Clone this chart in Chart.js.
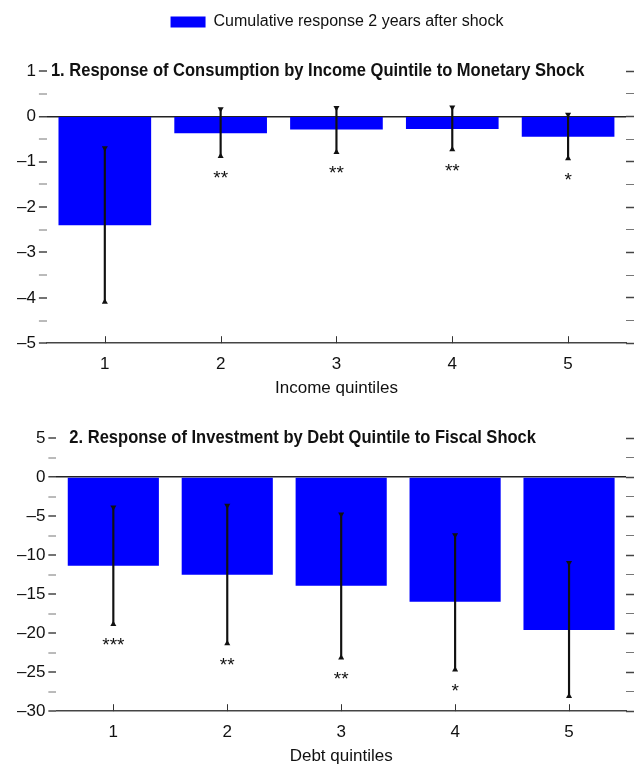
<!DOCTYPE html>
<html>
<head>
<meta charset="utf-8">
<script src="https://cdn.jsdelivr.net/npm/chart.js@4"></script>
<style>
  body { margin: 0; background: #fff; width: 635px; height: 769px; overflow: hidden; }
  #wrap1 { position: absolute; left: 0; top: 0; width: 635px; height: 400px; }
  #wrap2 { position: absolute; left: 0; top: 400px; width: 635px; height: 369px; }
</style>
</head>
<body>
<div id="wrap1"><canvas id="consChart" width="635" height="400"></canvas></div>
<div id="wrap2"><canvas id="invChart" width="635" height="369"></canvas></div>
<script>
var quintiles = ['1', '2', '3', '4', '5'];

// panel 1 : consumption, monetary shock
var consResp = [-2.40, -0.37, -0.29, -0.28, -0.45];
var consLow = [-4.09, -0.88, -0.79, -0.73, -0.93];
var consHigh = [-0.70, 0.16, 0.19, 0.20, 0.04];
var consStars = ['', '**', '**', '**', '*'];

// panel 2 : investment, fiscal shock
var invResp = [-11.36, -12.52, -13.93, -15.99, -19.59];
var invLow = [-18.86, -21.34, -23.14, -24.68, -28.10];
var invHigh = [-3.86, -3.65, -4.76, -7.42, -10.98];
var invStars = ['***', '**', '**', '*', ''];

var legendLabel = 'Cumulative response 2 years after shock';
var FONT = "'Liberation Sans', Arial, sans-serif";

const fmt = v => (v < 0 ? '\u2013' + Math.abs(v) : String(v));

// leave room between the legend and the plot, nudge it right a bit
const legendGap = {
  id: 'legendGap',
  beforeUpdate(chart, args, opts) {
    const lg = chart.legend;
    if (!lg || lg._gapDone || !opts.extra) return;
    const fit = lg.fit;
    lg.fit = function() {
      fit.call(this);
      this.height += opts.extra;
    };
    lg._gapDone = true;
  },
  afterLayout(chart, args, opts) {
    const lg = chart.legend;
    if (!lg || !opts.shift) return;
    lg.left += opts.shift;
    lg.right += opts.shift;
  }
};

// panel title, stars and inner x ticks
const panelDeco = {
  id: 'panelDeco',
  afterDatasetsDraw(chart, args, opts) {
    const ctx = chart.ctx;
    const area = chart.chartArea;
    const xs = chart.scales.x, ys = chart.scales.y;
    ctx.save();
    // stars under the lower end of each band
    ctx.fillStyle = '#111';
    ctx.font = '19px ' + FONT;
    ctx.textAlign = 'center';
    ctx.textBaseline = 'middle';
    opts.stars.forEach((s, i) => {
      if (!s) return;
      ctx.fillText(s, xs.getPixelForValue(i), ys.getPixelForValue(opts.low[i]) + 22);
    });
    // small ticks pointing up from the axis
    ctx.strokeStyle = '#333';
    ctx.lineWidth = 1;
    quintiles.forEach((q, i) => {
      const x = Math.round(xs.getPixelForValue(i)) + 0.5;
      ctx.beginPath();
      ctx.moveTo(x, area.bottom);
      ctx.lineTo(x, area.bottom - 7);
      ctx.stroke();
    });
    // title, condensed like the original narrow face
    ctx.font = 'bold 19px ' + FONT;
    ctx.textAlign = 'left';
    ctx.textBaseline = 'middle';
    ctx.fillStyle = '#111';
    ctx.translate(area.left + opts.titleX, area.top);
    ctx.scale(0.87, 1);
    ctx.fillText(opts.title, 0, 0);
    ctx.restore();
  }
};

function makeChart(canvasId, resp, low, high, cfg) {
  const isMajor = v => Math.abs(v / cfg.major - Math.round(v / cfg.major)) < 1e-6;
  const yCommon = {
    min: cfg.min,
    max: cfg.max,
    border: { display: false }
  };
  return new Chart(document.getElementById(canvasId).getContext('2d'), {
    type: 'bar',
    data: {
      labels: quintiles,
      datasets: [{
        label: legendLabel,
        data: resp,
        backgroundColor: '#0000FF',
        grouped: false,
        categoryPercentage: 0.8,
        barPercentage: 1,
        order: 3
      }, {
        label: 'band',
        data: low.map((l, i) => [l, high[i]]),
        backgroundColor: '#111',
        grouped: false,
        barThickness: 1.5,
        order: 2
      }, {
        type: 'line',
        label: 'upper',
        data: high,
        showLine: false,
        pointStyle: 'triangle',
        pointRotation: 180,
        pointRadius: 3.5,
        pointBackgroundColor: '#111',
        pointBorderWidth: 0,
        order: 1
      }, {
        type: 'line',
        label: 'lower',
        data: low,
        showLine: false,
        pointStyle: 'triangle',
        pointRadius: 3.5,
        pointBackgroundColor: '#111',
        pointBorderWidth: 0,
        order: 1
      }]
    },
    options: {
      responsive: false,
      animation: false,
      layout: { padding: cfg.padding },
      plugins: {
        legend: {
          display: cfg.legend,
          labels: {
            filter: item => item.datasetIndex === 0,
            boxWidth: 35,
            boxHeight: 11,
            padding: 10,
            color: '#111',
            font: { family: FONT, size: 16 }
          }
        },
        legendGap: { extra: cfg.legend ? 31 : 0, shift: cfg.legend ? 13 : 0 },
        tooltip: { enabled: false },
        panelDeco: { title: cfg.title, titleX: cfg.titleX, stars: cfg.stars, low: low }
      },
      scales: {
        x: {
          type: 'category',
          offset: true,
          grid: { display: false },
          border: { display: true, color: '#444', width: 1.5 },
          ticks: { color: '#111', padding: 3, font: { family: FONT, size: 17 } },
          title: {
            display: true,
            text: cfg.xTitle,
            color: '#111',
            padding: { top: 1, bottom: 0 },
            font: { family: FONT, size: 17 }
          }
        },
        y: Object.assign({}, yCommon, {
          position: 'left',
          ticks: {
            stepSize: cfg.step,
            autoSkip: false,
            padding: 3,
            color: '#111',
            font: { family: FONT, size: 17 },
            callback: v => (isMajor(v) ? fmt(v) : '')
          },
          grid: {
            drawOnChartArea: true,
            color: c => (c.tick && c.tick.value === 0 ? '#222' : 'rgba(0,0,0,0)'),
            lineWidth: c => (c.tick && c.tick.value === 0 ? 1.5 : 0),
            tickLength: 8,
            tickColor: c => (c.tick && isMajor(c.tick.value) ? '#444' : '#777'),
            tickWidth: c => (c.tick && isMajor(c.tick.value) ? 1.5 : 1)
          }
        }),
        y2: Object.assign({}, yCommon, {
          position: 'right',
          ticks: { stepSize: cfg.step, autoSkip: false, display: false },
          grid: {
            drawOnChartArea: false,
            tickLength: 8,
            tickColor: c => (c.tick && isMajor(c.tick.value) ? '#444' : '#777'),
            tickWidth: c => (c.tick && isMajor(c.tick.value) ? 1.5 : 1)
          }
        })
      }
    },
    plugins: [legendGap, panelDeco]
  });
}

makeChart('consChart', consResp, consLow, consHigh, {
  min: -5, max: 1, step: 0.5, major: 1,
  title: '1. Response of Consumption by Income Quintile to Monetary Shock',
  titleX: 4,
  stars: consStars,
  xTitle: 'Income quintiles',
  legend: true,
  padding: { top: 4, left: 14, right: 1, bottom: 1 }
});

makeChart('invChart', invResp, invLow, invHigh, {
  min: -30, max: 5, step: 2.5, major: 5,
  title: '2. Response of Investment by Debt Quintile to Fiscal Shock',
  titleX: 13,
  stars: invStars,
  xTitle: 'Debt quintiles',
  legend: false,
  padding: { top: 38, left: 14, right: 1, bottom: 2 }
});
</script>
</body>
</html>
